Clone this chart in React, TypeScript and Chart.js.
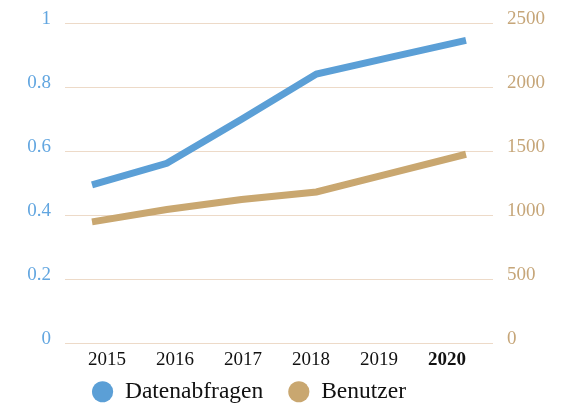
import React, { useEffect, useRef } from 'react';
import { Chart, registerables } from 'chart.js';

Chart.register(...registerables);

const years = ['2015', '2016', '2017', '2018', '2019', '2020'];
const queries = [0.495, 0.5625, 0.7, 0.842, 0.895, 0.947];
const users = [948, 1045, 1123, 1182, 1330, 1477];
const leftTicks = [0, 0.2, 0.4, 0.6, 0.8, 1];
const rightTicks = [0, 500, 1000, 1500, 2000, 2500];
const highlightYear = '2020';

const FONT = "'Liberation Serif', 'Times New Roman', serif";
const BLUE = '#5b9fd6';
const BLUE_TEXT = '#62a6e0';
const TAN = '#c9a770';
const TAN_TEXT = '#c6a679';
const GRID = '#eddac8';
const LEGEND_DX = -34;
const LEGEND_DY = -17;

const legendShift = {
  id: 'legendShift',
  afterLayout(chart: any) {
    const lg = chart.legend;
    if (!lg) return;
    lg.left += LEGEND_DX;
    lg.right += LEGEND_DX;
    lg.top += LEGEND_DY;
    lg.bottom += LEGEND_DY;
  },
};

export default function App() {
  const ref = useRef<HTMLCanvasElement | null>(null);

  useEffect(() => {
    if (!ref.current) return;
    const chart = new Chart(ref.current, {
      type: 'line',
      plugins: [legendShift],
      data: {
        datasets: [
          {
            label: 'Datenabfragen',
            data: queries.map((v, i) => ({ x: i, y: v })),
            borderColor: BLUE,
            backgroundColor: BLUE,
            borderWidth: 7,
            borderCapStyle: 'butt',
            borderJoinStyle: 'miter',
            pointRadius: 0,
            xAxisID: 'xd',
            yAxisID: 'yl',
          },
          {
            label: 'Benutzer',
            data: users.map((v, i) => ({ x: i, y: v })),
            borderColor: TAN,
            backgroundColor: TAN,
            borderWidth: 7,
            borderCapStyle: 'butt',
            borderJoinStyle: 'miter',
            pointRadius: 0,
            xAxisID: 'xd',
            yAxisID: 'yr',
          },
        ],
      },
      options: {
        animation: false,
        responsive: false,
        layout: { padding: { top: 23, bottom: -27.5, left: 0, right: 0 } },
        plugins: {
          tooltip: { enabled: false },
          legend: {
            position: 'bottom',
            labels: {
              usePointStyle: true,
              pointStyle: 'circle',
              pointStyleWidth: 21.2,
              color: '#111',
              font: { family: FONT, size: 23.5 },
              boxHeight: 15,
              padding: 25,
              generateLabels: (c: any) =>
                Chart.defaults.plugins.legend.labels
                  .generateLabels(c)
                  .map((l: any) => ({ ...l, lineWidth: 0, strokeStyle: 'transparent' })),
            },
          },
        },
        scales: {
          xd: {
            type: 'linear',
            display: false,
            min: -0.361,
            max: 5.361,
          },
          xl: {
            type: 'linear',
            position: 'bottom',
            min: -0.6176,
            max: 5.676,
            afterBuildTicks: (s: any) => {
              s.ticks = years.map((_, i) => ({ value: i }));
            },
            afterFit: (s: any) => {
              s.height = 29;
            },
            grid: { display: false, drawTicks: false },
            border: { display: false },
            ticks: {
              autoSkip: false,
              maxRotation: 0,
              padding: 6,
              color: '#111',
              callback: (v: any) => years[v as number],
              font: (ctx: any) => ({
                family: FONT,
                size: 19,
                weight: years[ctx.tick?.value] === highlightYear ? 'bold' : 'normal',
              }),
            },
          },
          yl: {
            type: 'linear',
            position: 'left',
            min: 0,
            max: 1,
            afterBuildTicks: (s: any) => {
              s.ticks = leftTicks.map((v) => ({ value: v }));
            },
            afterFit: (s: any) => {
              s.width = 65;
            },
            grid: { color: GRID, lineWidth: 1, drawTicks: false },
            border: { display: false },
            ticks: {
              color: BLUE_TEXT,
              padding: 14,
              labelOffset: -4,
              font: { family: FONT, size: 19, lineHeight: 1 },
              callback: (v: any) => String(v),
            },
          },
          yr: {
            type: 'linear',
            position: 'right',
            min: 0,
            max: 2500,
            afterBuildTicks: (s: any) => {
              s.ticks = rightTicks.map((v) => ({ value: v }));
            },
            afterFit: (s: any) => {
              s.width = 73;
            },
            grid: { display: false, drawTicks: false },
            border: { display: false },
            ticks: {
              color: TAN_TEXT,
              padding: 14,
              labelOffset: -4,
              font: { family: FONT, size: 19, lineHeight: 1 },
              callback: (v: any) => String(v),
            },
          },
        },
      },
    });
    return () => chart.destroy();
  }, []);

  return (
    <div style={{ position: 'absolute', left: 0, top: 0, width: 566, height: 403, overflow: 'hidden' }}>
      <canvas ref={ref} width={566} height={403} />
    </div>
  );
}
